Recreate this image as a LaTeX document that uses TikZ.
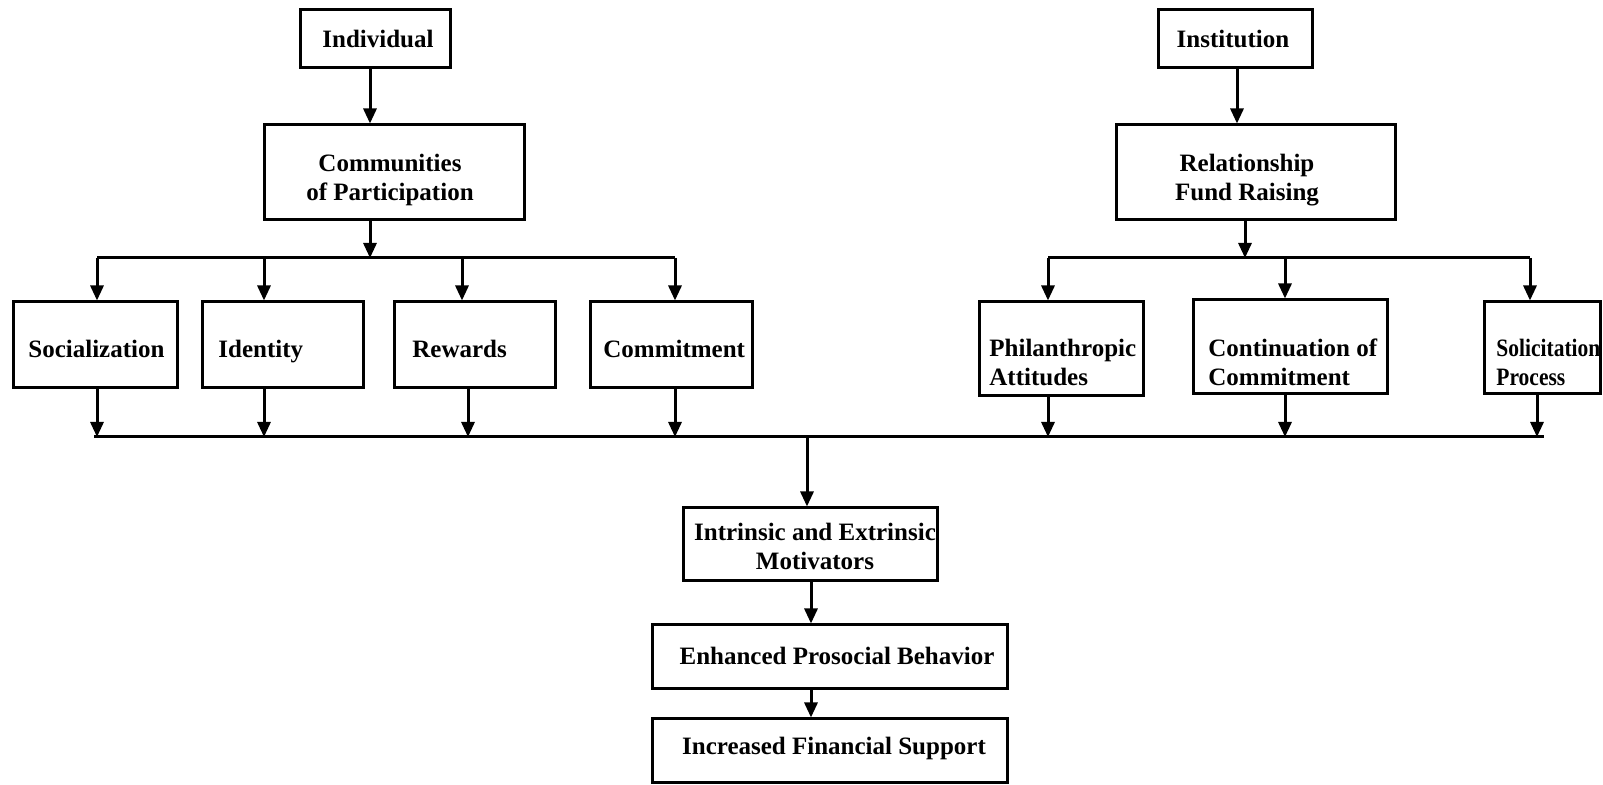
\documentclass[tikz,border=0pt]{standalone}
\usepackage{fontspec}
\setmainfont{Liberation Serif}
\newfontfamily\narrowserif{Liberation Serif}[FakeStretch=0.86]
\usetikzlibrary{arrows.meta}
\begin{document}
\begin{tikzpicture}[x=0.5pt,y=-0.5pt,
  box/.style={draw,line width=1.5pt,inner sep=0pt},
  lbl/.style={font=\fontsize{12.5pt}{14.5pt}\selectfont\bfseries,inner sep=0pt},
  oneline/.style={text height=1.55ex,text depth=0.25ex},
  flow/.style={line width=1.5pt,-{Triangle[length=7.5pt,width=6.5pt]}},
  wire/.style={line width=1.5pt}]
\useasboundingbox (0,0) rectangle (1603,785);

% ---- boxes ----
\node[box,minimum width=75pt,minimum height=29pt]     (ind)  at (375,39) {};
\node[box,minimum width=130pt,minimum height=47.5pt]  (comm) at (394,172.5) {};
\node[box,minimum width=77pt,minimum height=29pt]     (inst) at (1235,39) {};
\node[box,minimum width=139.5pt,minimum height=47.5pt](rel)  at (1255.5,172.5) {};

\node[box,minimum width=82pt,minimum height=43pt]   (soc)  at (95,345) {};
\node[box,minimum width=80.5pt,minimum height=43pt] (idn)  at (282.5,345) {};
\node[box,minimum width=80.5pt,minimum height=43pt] (rew)  at (474.5,345) {};
\node[box,minimum width=81pt,minimum height=43pt]   (com)  at (671,345) {};

\node[box,minimum width=82pt,minimum height=47pt] (phil) at (1061,349) {};
\node[box,minimum width=97pt,minimum height=47pt] (cont) at (1290,347) {};
\node[box,minimum width=58pt,minimum height=46pt] (sol)  at (1542,348) {};

\node[box,minimum width=127pt,minimum height=36.5pt] (intr) at (810,544.5) {};
\node[box,minimum width=177.5pt,minimum height=32pt] (enh)  at (829.5,657) {};
\node[box,minimum width=177.5pt,minimum height=32pt] (inc)  at (829.5,751) {};

% ---- labels ----
\node[lbl,oneline] (ind-t)  at (378,42) {Individual};
\node[lbl,align=center] (comm-t) at (390,180) {Communities\\of Participation};
\node[lbl,oneline] (inst-t) at (1233,42) {Institution};
\node[lbl,align=center] (rel-t) at (1247,180) {Relationship\\Fund Raising};

\node[lbl,oneline,anchor=west] (soc-t) at (28,352) {Socialization};
\node[lbl,oneline,anchor=west] (idn-t) at (218,352) {Identity};
\node[lbl,oneline,anchor=west] (rew-t) at (412,352) {Rewards};
\node[lbl,oneline,anchor=west] (com-t) at (603,352) {Commitment};

\node[lbl,anchor=west,align=left] (phil-t) at (989,362) {Philanthropic\\Attitudes};
\node[lbl,anchor=west,align=left] (cont-t) at (1208,362) {Continuation of\\Commitment};
\node[lbl,anchor=west,align=left,font=\fontsize{12.5pt}{14.5pt}\narrowserif\bfseries] (sol-t) at (1496,362) {Solicitation\\Process};

\node[lbl,align=center] (intr-t) at (815,546) {Intrinsic and Extrinsic\\Motivators};
\node[lbl,oneline] (enh-t) at (837,659) {Enhanced Prosocial Behavior};
\node[lbl,oneline] (inc-t) at (834,749) {Increased Financial Support};

% ---- junction points ----
\coordinate (lbus-a) at (97,258);
\coordinate (lbus-b) at (675,258);
\coordinate (rbus-a) at (1048,258);
\coordinate (rbus-b) at (1530,258);
\coordinate (bbus-a) at (94,437);
\coordinate (bbus-b) at (1544,437);

% ---- left branch ----
\draw[flow] (ind.south -| 370,0) -- (comm.north -| 370,0);
\draw[wire] (lbus-a) -- (lbus-b);
\draw[flow] (comm.south -| 370,0) -- (lbus-a -| 370,0);
\draw[flow] (lbus-a) -- (soc.north -| lbus-a);
\draw[flow] (lbus-a -| 264,0) -- (idn.north -| 264,0);
\draw[flow] (lbus-a -| 462,0) -- (rew.north -| 462,0);
\draw[flow] (lbus-b) -- (com.north -| lbus-b);

% ---- right branch ----
\draw[flow] (inst.south -| 1237,0) -- (rel.north -| 1237,0);
\draw[wire] (rbus-a) -- (rbus-b);
\draw[flow] (rel.south -| 1245,0) -- (rbus-a -| 1245,0);
\draw[flow] (rbus-a) -- (phil.north -| rbus-a);
\draw[flow] (rbus-a -| 1285,0) -- (cont.north -| 1285,0);
\draw[flow] (rbus-b) -- (sol.north -| rbus-b);

% ---- collecting bus ----
\draw[wire] (bbus-a) -- (bbus-b);
\draw[flow] (soc.south -| 97,0) -- (bbus-a -| 97,0);
\draw[flow] (idn.south -| 264,0) -- (bbus-a -| 264,0);
\draw[flow] (rew.south -| 468,0) -- (bbus-a -| 468,0);
\draw[flow] (com.south -| 675,0) -- (bbus-a -| 675,0);
\draw[flow] (phil.south -| 1048,0) -- (bbus-a -| 1048,0);
\draw[flow] (cont.south -| 1285,0) -- (bbus-a -| 1285,0);
\draw[flow] (sol.south -| 1537,0) -- (bbus-a -| 1537,0);

% ---- outcome chain ----
\draw[flow] (bbus-a -| 807,0) -- (intr.north -| 807,0);
\draw[flow] (intr.south -| 811,0) -- (enh.north -| 811,0);
\draw[flow] (enh.south -| 811,0) -- (inc.north -| 811,0);
\end{tikzpicture}
\end{document}
